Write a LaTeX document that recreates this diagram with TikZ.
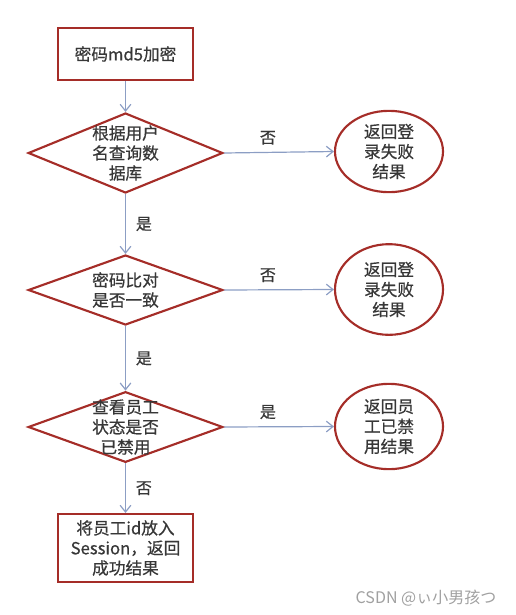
\documentclass[tikz,border=0pt]{standalone}
\usepackage{fontspec}
\usepackage{tikz}
\usetikzlibrary{shapes.geometric, arrows.meta}
\newfontfamily\cjk[FakeBold=0.6]{Noto Sans CJK SC}
\newfontfamily\markfont{Noto Sans CJK SC}
\definecolor{boxred}{RGB}{165,45,40}
\definecolor{linkblue}{RGB}{140,158,196}
\definecolor{txtgray}{RGB}{55,55,55}
\tikzstyle{arrow} = [line width=0.9pt, linkblue, -{Straight Barb[length=5pt,width=8pt]}]
\tikzstyle{process} = [rectangle, draw=boxred, line width=1.6pt, minimum width=101pt, text=txtgray, font=\cjk\fontsize{12.5}{15}\selectfont, align=center]
\tikzstyle{decision} = [diamond, draw=boxred, line width=1.6pt, minimum width=146pt, inner sep=0pt]
\tikzstyle{result} = [ellipse, draw=boxred, line width=1.6pt, minimum width=81pt, inner sep=0pt]
\tikzstyle{txt} = [text=txtgray, font=\cjk\fontsize{12.5}{15}\selectfont, align=center]
\tikzstyle{yesno} = [text=txtgray, font=\cjk\fontsize{12}{14}\selectfont]

\begin{document}
\begin{tikzpicture}[x=0.75pt, y=-0.75pt]
            \useasboundingbox (0,0) rectangle (515,615);
            % main column
            \node[process, minimum height=39pt] (pwd) at (125.5,54) {密码md5加密};
            \node[decision, minimum height=60pt] (d1) at (125.5,153) {};
            \node[txt] (d1t) at (d1) {根据用户\\名查询数\\据库};
            \node[decision, minimum height=52.5pt] (d2) at (125.5,290) {};
            \node[txt] (d2t) at (d2) {密码比对\\是否一致};
            \node[decision, minimum height=53pt] (d3) at (125.5,427) {};
            \node[txt] (d3t) at (d3) {查看员工\\状态是否\\已禁用};
            \node[process, minimum height=51pt] (ok) at (125.5,548) {将员工id放入\\Session，返回\\成功结果};
            % results on the right
            \node[result, minimum height=61pt] (e1) at (389,151.5) {};
            \node[txt] (e1t) at (e1) {返回登\\录失败\\结果};
            \node[result, minimum height=68pt] (e2) at (389,289.5) {};
            \node[txt] (e2t) at (e2) {返回登\\录失败\\结果};
            \node[result, minimum height=64pt] (e3) at (389,426.5) {};
            \node[txt] (e3t) at (e3) {返回员\\工已禁\\用结果};
            % connectors
            \draw[arrow] (pwd.south) -- (d1.north);
            \draw[arrow] (d1.south) -- (d2.north) node[yesno, right=4pt, midway] {是};
            \draw[arrow] (d2.south) -- (d3.north) node[yesno, right=4pt, midway] {是};
            \draw[arrow] (d3.south) -- (ok.north) node[yesno, right=4pt, midway] {否};
            \draw[arrow] (d1.east) -- (e1.west) node[yesno, above=2pt, pos=0.4] {否};
            \draw[arrow] (d2.east) -- (e2.west) node[yesno, above=2pt, pos=0.4] {否};
            \draw[arrow] (d3.east) -- (e3.west) node[yesno, above=2pt, pos=0.4] {是};
            \node[text={rgb,255:red,160;green,160;blue,160}, font=\markfont\fontsize{12}{14}\selectfont] (mark) at (426,598) {CSDN @ぃ小男孩つ};
        \end{tikzpicture}
\end{document}
